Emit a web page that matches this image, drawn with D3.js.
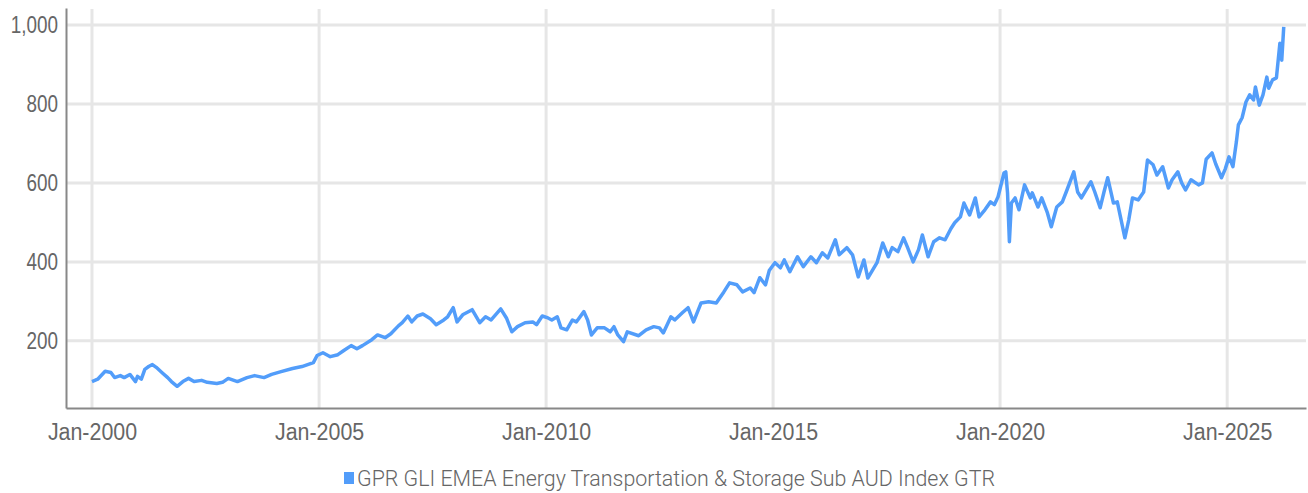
<!DOCTYPE html>
<html lang="en">
<head>
    <meta charset="UTF-8">
    <title>GPR GLI EMEA Energy Transportation & Storage Sub AUD Index GTR</title>
    <script src="https://d3js.org/d3.v7.min.js"></script>
    <style>
        body {
            margin: 0;
            background: #fff;
        }
        svg {
            display: block;
            font-family: Roboto, "Noto Sans", sans-serif;
            font-weight: 300;
        }
        .grid line {
            stroke: #e6e6e6;
            stroke-width: 3px;
        }
        .axis text {
            fill: #666;
            font-size: 23px;
        }
        .line {
            fill: none;
            stroke: #529dfa;
            stroke-width: 3.5px;
            stroke-linejoin: round;
        }
        .legend text {
            fill: #666;
            font-size: 22px;
        }
    </style>
</head>
<body>
    <svg width="1308" height="493"></svg>
    <script>
        // values
        const seriesName = "GPR GLI EMEA Energy Transportation & Storage Sub AUD Index GTR";

        const dates = [
            "2000-01-01","2000-02-16","2000-04-16","2000-06-01","2000-07-01","2000-08-16","2000-09-16","2000-11-01","2000-12-16",
            "2001-01-01","2001-02-01","2001-03-01","2001-04-01","2001-05-01","2001-06-01","2001-07-16","2001-09-01","2001-10-01","2001-11-16",
            "2002-01-01","2002-02-16","2002-04-01","2002-06-01","2002-07-16","2002-10-01","2002-11-16",
            "2003-01-01","2003-03-16","2003-06-01","2003-08-01","2003-10-16","2003-12-16",
            "2004-03-01","2004-06-01","2004-08-16","2004-10-01","2004-11-16","2004-12-16",
            "2005-02-01","2005-04-01","2005-06-01","2005-07-16","2005-09-16","2005-11-01","2005-12-16",
            "2006-03-01","2006-04-16","2006-06-16","2006-08-01","2006-10-01","2006-11-01","2006-12-16",
            "2007-01-16","2007-03-01","2007-04-16","2007-06-16","2007-08-01","2007-10-01","2007-11-01","2007-12-16",
            "2008-01-16","2008-03-01","2008-05-16","2008-07-16","2008-09-01","2008-10-16",
            "2009-01-01","2009-02-16","2009-04-01","2009-05-16","2009-07-16","2009-09-16","2009-10-16","2009-12-01",
            "2010-01-16","2010-02-16","2010-04-01","2010-05-01","2010-06-16","2010-08-01","2010-09-01","2010-11-01","2010-12-01",
            "2011-01-01","2011-02-16","2011-04-16","2011-06-01","2011-07-01","2011-08-01","2011-09-16","2011-10-16",
            "2012-01-16","2012-03-16","2012-05-16","2012-07-01","2012-08-01","2012-10-01","2012-11-01",
            "2013-01-01","2013-02-16","2013-04-01","2013-06-01","2013-08-01","2013-10-01","2013-12-01",
            "2014-01-16","2014-03-16","2014-05-01","2014-07-01","2014-08-01","2014-09-16","2014-11-01","2014-12-01",
            "2015-01-16","2015-03-01","2015-04-01","2015-05-16","2015-07-16","2015-09-01","2015-11-01","2015-12-16",
            "2016-02-01","2016-03-16","2016-05-16","2016-06-16","2016-08-16","2016-10-01","2016-11-16",
            "2017-01-01","2017-02-01","2017-04-16","2017-06-01","2017-07-16","2017-08-16","2017-10-01","2017-11-16","2017-12-16",
            "2018-02-01","2018-03-16","2018-04-16","2018-06-01","2018-07-16","2018-09-01","2018-10-16","2018-12-01",
            "2019-01-01","2019-02-16","2019-03-16","2019-05-01","2019-06-16","2019-07-16","2019-09-01","2019-10-16","2019-11-16","2019-12-16",
            "2020-02-01","2020-02-16","2020-03-01","2020-03-16","2020-04-01","2020-05-01","2020-06-01","2020-07-16","2020-09-01","2020-09-16","2020-11-01","2020-12-01",
            "2021-01-16","2021-02-16","2021-04-01","2021-05-16","2021-06-16","2021-08-16","2021-09-16","2021-10-16",
            "2022-01-01","2022-02-01","2022-03-16","2022-04-16","2022-05-16","2022-07-01","2022-08-01","2022-09-01","2022-10-01","2022-11-01","2022-12-01",
            "2023-01-16","2023-03-01","2023-04-01","2023-05-16","2023-06-16","2023-08-01","2023-09-16","2023-10-16","2023-12-01",
            "2024-01-01","2024-02-01","2024-03-16","2024-05-16","2024-06-16","2024-07-16","2024-09-01","2024-10-01","2024-11-16","2024-12-16",
            "2025-01-16","2025-02-16","2025-03-16","2025-04-01","2025-05-01","2025-06-01","2025-07-01","2025-08-01","2025-08-16","2025-09-16","2025-10-16","2025-11-16","2025-12-01",
            "2026-01-01","2026-02-01","2026-03-01","2026-03-16","2026-04-01"
        ];

        const values = [
            97,103,123,120,107,112,107,115,97,
            110,103,128,135,140,133,120,107,97,85,
            97,105,97,100,95,92,95,
            105,97,107,112,107,115,
            122,130,135,140,145,163,
            170,160,165,175,188,180,188,
            203,215,208,218,238,246,263,
            248,263,268,256,241,253,261,284,
            248,266,279,246,261,253,
            281,258,223,236,246,248,241,263,
            258,253,261,233,228,253,248,274,253,
            215,233,233,223,236,215,198,223,
            213,228,236,233,220,261,253,
            271,284,248,296,299,296,324,
            347,342,324,334,322,360,342,378,
            398,385,405,375,413,388,413,398,
            423,410,456,418,436,418,362,
            405,359,398,448,413,436,426,461,438,
            400,431,468,413,451,461,456,484,
            499,514,549,519,562,514,532,552,545,565,
            625,628,575,451,549,562,532,595,562,575,539,562,
            524,489,539,552,577,628,577,562,
            603,577,537,577,613,549,552,506,461,506,562,
            557,577,658,646,620,641,587,608,628,
            600,582,608,595,600,660,676,648,613,635,
            666,641,704,747,765,805,823,810,843,797,823,868,840,
            861,866,954,911,995
        ];

        const yTicks = [200, 400, 600, 800, 1000];
        const xTicks = ["2000-01-01", "2005-01-01", "2010-01-01", "2015-01-01", "2020-01-01", "2025-01-01"];
        const xDomain = ["1999-06-06", "2026-09-27"];
        const yDomain = [30, 1043];

        const parse = d3.utcParse("%Y-%m-%d");
        const data = dates.map((d, i) => ({date: parse(d), value: values[i]}));

        // squeeze text horizontally to mimic a condensed face
        function condense(sel, k) {
            sel.each(function() {
                const w = this.getComputedTextLength();
                d3.select(this).attr("textLength", w * k).attr("lengthAdjust", "spacingAndGlyphs");
            });
        }

        const svg = d3.select("svg"),
            margin = {top: 8, right: 2, bottom: 85, left: 66},
            width = +svg.attr("width") - margin.left - margin.right,
            height = +svg.attr("height") - margin.top - margin.bottom,
            g = svg.append("g").attr("transform", `translate(${margin.left},${margin.top})`);

        const x = d3.scaleUtc().domain(xDomain.map(parse)).range([0, width]),
              y = d3.scaleLinear().domain(yDomain).range([height, 0]);

        // grid
        g.append("g")
            .attr("class", "grid")
            .selectAll("line")
            .data(yTicks)
            .join("line")
            .attr("x1", 0).attr("x2", width)
            .attr("y1", d => y(d)).attr("y2", d => y(d));

        g.append("g")
            .attr("class", "grid")
            .selectAll("line")
            .data(xTicks.map(parse))
            .join("line")
            .attr("x1", d => x(d)).attr("x2", d => x(d))
            .attr("y1", 1).attr("y2", height);

        // axes
        const yAxis = g.append("g")
            .attr("class", "axis axis--y")
            .call(d3.axisLeft(y).tickValues(yTicks).tickFormat(d3.format(",")).tickSize(0).tickPadding(8));
        yAxis.select(".domain").attr("stroke", "#888").attr("stroke-width", 2);
        condense(yAxis.selectAll("text"), 0.82);

        const xAxis = g.append("g")
            .attr("class", "axis axis--x")
            .attr("transform", `translate(0,${height})`)
            .call(d3.axisBottom(x).tickValues(xTicks.map(parse)).tickFormat(d3.utcFormat("%b-%Y")).tickSize(0).tickPadding(16));
        xAxis.select(".domain").attr("stroke", "#888").attr("stroke-width", 2);
        condense(xAxis.selectAll("text"), 0.93);

        // series
        const line = d3.line()
            .x(d => x(d.date))
            .y(d => y(d.value));

        g.append("path")
            .datum(data)
            .attr("class", "line")
            .attr("d", line);

        // legend
        const legend = svg.append("g")
            .attr("class", "legend")
            .attr("transform", "translate(676,478)");

        const legendText = legend.append("text")
            .attr("dy", "0.35em")
            .attr("text-anchor", "middle")
            .text(seriesName);
        const natural = legendText.node().getComputedTextLength();
        condense(legendText, 638 / natural);

        legend.append("rect")
            .attr("x", -319 - 13)
            .attr("y", -6)
            .attr("width", 10)
            .attr("height", 12)
            .attr("fill", "#529dfa");
    </script>
</body>
</html>
